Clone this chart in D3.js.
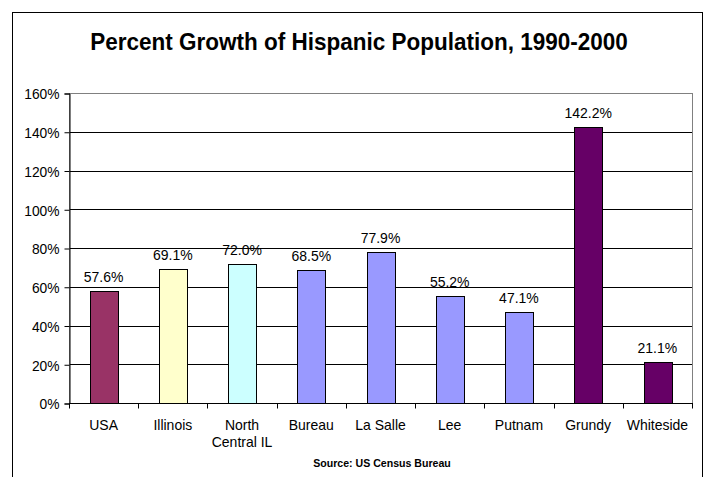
<!DOCTYPE html>
<html><head><meta charset="utf-8">
<script src="https://cdn.jsdelivr.net/npm/d3@7"></script>
<style>body{margin:0;background:#fff}svg{display:block}text{font-family:"Liberation Sans",Arial,sans-serif}</style>
</head><body>
<svg id="c" width="705" height="477"></svg>
<script>
const categories = ["USA", "Illinois", "North Central IL", "Bureau", "La Salle", "Lee", "Putnam", "Grundy", "Whiteside"];
const values = [57.6, 69.1, 72.0, 68.5, 77.9, 55.2, 47.1, 142.2, 21.1];
const barColors = ["#993366", "#FFFFCC", "#CCFFFF", "#9999FF", "#9999FF", "#9999FF", "#9999FF", "#660066", "#660066"];
const yTicks = [0, 20, 40, 60, 80, 100, 120, 140, 160];
const title = "Percent Growth of Hispanic Population, 1990-2000";
const source = "Source: US Census Bureau";

const svg = d3.select("#c");
const L = 69, R = 692, T = 93, B = 403;
const SY = 1.08; // slight vertical stretch of the reference's text

function stretched(sel, x, y) {
  return sel.attr("transform", `translate(${x},${y}) scale(1,${SY})`);
}

svg.append("rect").attr("x", 12.5).attr("y", 12.5).attr("width", 690).attr("height", 480)
  .attr("fill", "#fff").attr("stroke", "#000").attr("stroke-width", 1);

stretched(svg.append("text"), 359, 50).attr("text-anchor", "middle")
  .attr("font-size", 22.5).attr("font-weight", "bold").text(title);

const x = d3.scaleBand().domain(categories).range([L, R]);
const y = d3.scaleLinear().domain([0, 160]).range([B, T]);

// gridlines
svg.append("g").selectAll("line").data(yTicks.filter(d => d > 0 && d < 160)).join("line")
  .attr("x1", L).attr("x2", R).attr("y1", d => Math.round(y(d)) + 0.5).attr("y2", d => Math.round(y(d)) + 0.5)
  .attr("stroke", "#000").attr("stroke-width", 1);
// plot border
svg.append("rect").attr("x", L + 0.5).attr("y", Math.round(T) + 0.5).attr("width", R - L).attr("height", B - T)
  .attr("fill", "none").attr("stroke", "#808080");

// bars
const bw = x.bandwidth() * 0.4;
svg.append("g").selectAll("rect").data(values).join("rect")
  .attr("x", (d, i) => Math.round(x(categories[i]) + x.bandwidth() / 2 - bw / 2) + 0.5)
  .attr("y", d => Math.round(y(d)) + 0.5)
  .attr("width", Math.round(bw))
  .attr("height", d => Math.round(y(0)) - Math.round(y(d)))
  .attr("fill", (d, i) => barColors[i]).attr("stroke", "#000").attr("stroke-width", 1);

// data labels
svg.append("g").selectAll("text").data(values).join("text")
  .each(function(d, i) { stretched(d3.select(this), x(categories[i]) + x.bandwidth() / 2, y(d) - 9); })
  .attr("text-anchor", "middle").attr("font-size", 14)
  .text(d => d.toFixed(1) + "%");

// y axis
const ya = d3.axisLeft(y).tickValues(yTicks).tickFormat(d => d + "%").tickSize(5).tickPadding(5);
const gy = svg.append("g").attr("transform", `translate(${L + 0.5},0.5)`).call(ya);
gy.select(".domain").attr("stroke", "#000");
gy.selectAll(".tick line").attr("stroke", "#000");
gy.selectAll("text").attr("font-size", 13.8).attr("fill", "#000").attr("dy", "0.36em")
  .attr("transform", `scale(1,${SY})`).attr("y", 0);

// x axis
const gx = svg.append("g").attr("transform", `translate(0,${B + 0.5})`);
gx.append("line").attr("x1", L).attr("x2", R + 1).attr("y1", 0).attr("y2", 0).attr("stroke", "#000");
const tickPos = categories.map(c => x(c)).concat([R]);
gx.selectAll("line.t").data(tickPos).join("line").attr("class", "t")
  .attr("x1", d => Math.round(d) + 0.5).attr("x2", d => Math.round(d) + 0.5).attr("y1", 0).attr("y2", 5).attr("stroke", "#000");
gx.selectAll("text").data(categories).join("text")
  .each(function(d) {
    const t = stretched(d3.select(this), x(d) + x.bandwidth() / 2, 26);
    const lines = d === "North Central IL" ? ["North", "Central IL"] : [d];
    lines.forEach((s, k) => t.append("tspan").attr("x", 0).attr("dy", k ? 16 : 0).text(s));
  })
  .attr("text-anchor", "middle").attr("font-size", 14);

stretched(svg.append("text"), 382, 467).attr("text-anchor", "middle")
  .attr("font-size", 10.6).attr("font-weight", "bold").text(source);
</script>
</body></html>
